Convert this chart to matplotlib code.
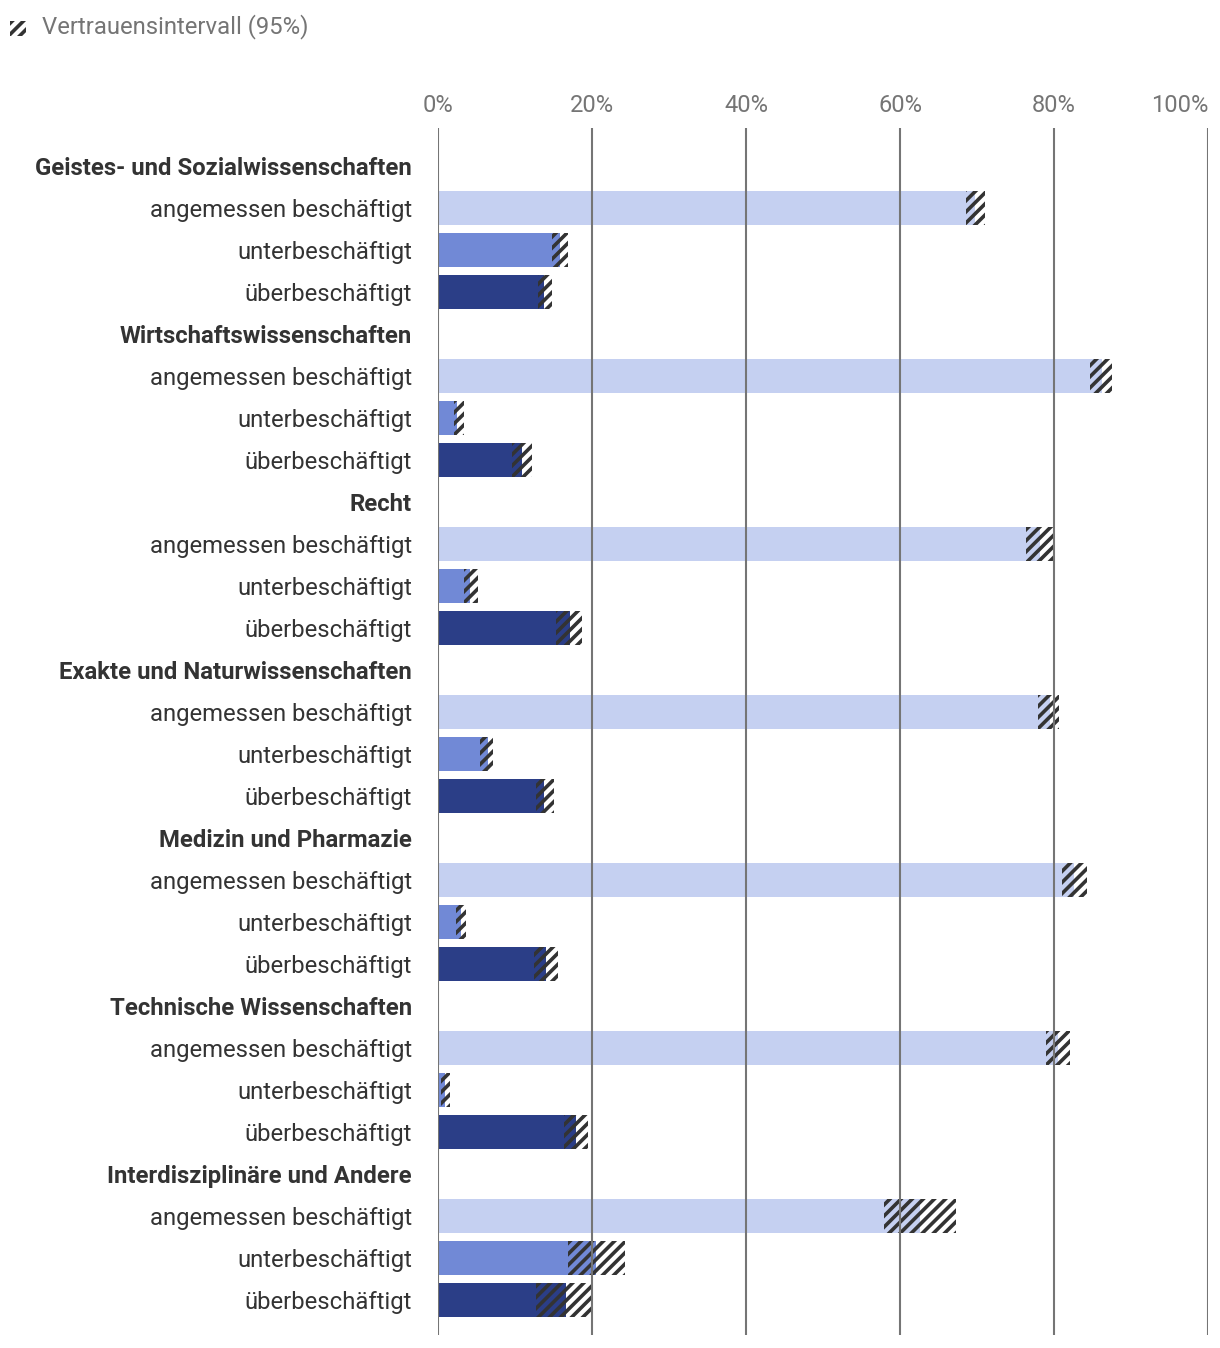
import matplotlib
matplotlib.use("Agg")
import matplotlib.pyplot as plt
from matplotlib.patches import Rectangle
import numpy as np

plt.rcParams['font.family'] = ['Roboto', 'DejaVu Sans']
plt.rcParams['hatch.linewidth'] = 2.6

groups = ["Geistes- und Sozialwissenschaften", "Wirtschaftswissenschaften", "Recht",
          "Exakte und Naturwissenschaften", "Medizin und Pharmazie",
          "Technische Wissenschaften", "Interdisziplinäre und Andere"]
statuses = ["angemessen beschäftigt", "unterbeschäftigt", "überbeschäftigt"]

# point estimates (%) per group: angemessen, unter, über
angemessen = [69.8, 86.2, 78.2, 79.5, 82.6, 80.5, 62.6]
unter = [15.8, 2.5, 4.2, 6.5, 3.0, 0.9, 20.5]
ueber = [13.8, 10.9, 17.1, 13.8, 14.0, 17.9, 16.6]

# confidence interval lower / upper bounds (%)
angemessen_lo = [68.6, 84.7, 76.4, 77.9, 81.0, 79.0, 57.9]
angemessen_hi = [71.0, 87.5, 80.0, 80.6, 84.3, 82.1, 67.3]
unter_lo = [14.8, 2.1, 3.4, 5.5, 2.3, 0.4, 16.9]
unter_hi = [16.9, 3.4, 5.2, 7.1, 3.6, 1.6, 24.3]
ueber_lo = [13.0, 9.6, 15.3, 12.7, 12.5, 16.4, 12.7]
ueber_hi = [14.8, 12.2, 18.7, 15.1, 15.6, 19.5, 20.1]

xticks = [0, 20, 40, 60, 80, 100]

colors = ["#c5d0f1", "#7189d6", "#2b3e87"]
hatch_col = "#333333"
grid_col = "#757575"

fig = plt.figure(figsize=(12.2, 13.48), dpi=100)
W, H = 1220, 1348
ax = fig.add_axes([438 / W, 1 - 1335 / H, (1208 - 438) / W, (1335 - 128) / H])

series = [(angemessen, angemessen_lo, angemessen_hi),
          (unter, unter_lo, unter_hi),
          (ueber, ueber_lo, ueber_hi)]

ylabels = []
ypos = []
bold_idx = []
row = 0
for g, name in enumerate(groups):
    ylabels.append(name)
    ypos.append(row)
    bold_idx.append(len(ylabels) - 1)
    row += 1
    for s, (vals, lo, hi) in enumerate(series):
        ax.barh(row, vals[g], height=0.81, color=colors[s], linewidth=0, zorder=1)
        ax.barh(row, hi[g] - lo[g], left=lo[g], height=0.81, fill=False,
                edgecolor=hatch_col, hatch='///', linewidth=0, zorder=2)
        ylabels.append(statuses[s])
        ypos.append(row)
        row += 1

ax.set_xlim(0, 100)
ax.set_ylim(27 + 35 / 42, -38 / 42)
ax.set_yticks(ypos)
ax.set_yticklabels(ylabels, fontsize=17.2, color="#333333")
for i, lab in enumerate(ax.get_yticklabels()):
    if i in bold_idx:
        lab.set_fontweight("bold")
ax.tick_params(axis='y', length=0, pad=18.7)

ax.xaxis.tick_top()
ax.set_xticks(xticks)
ax.set_xticklabels([f"{v}%" for v in xticks], fontsize=17, color=grid_col)
ax.get_xticklabels()[-1].set_horizontalalignment('right')
ax.tick_params(axis='x', length=0, pad=8)
for v in xticks:
    ax.axvline(v, color=grid_col, linewidth=1.5, zorder=3)
for sp in ax.spines.values():
    sp.set_visible(False)

# legend
fig.patches.append(Rectangle((10 / W, 1 - 36 / H), 16 / W, 15 / H, transform=fig.transFigure,
                             fill=False, edgecolor=hatch_col, hatch='///', linewidth=0))
fig.text(42 / W, 1 - 27 / H, "Vertrauensintervall (95%)", fontsize=17.2, color=grid_col,
         va='center', ha='left')

fig.savefig("out.png", dpi=100)
